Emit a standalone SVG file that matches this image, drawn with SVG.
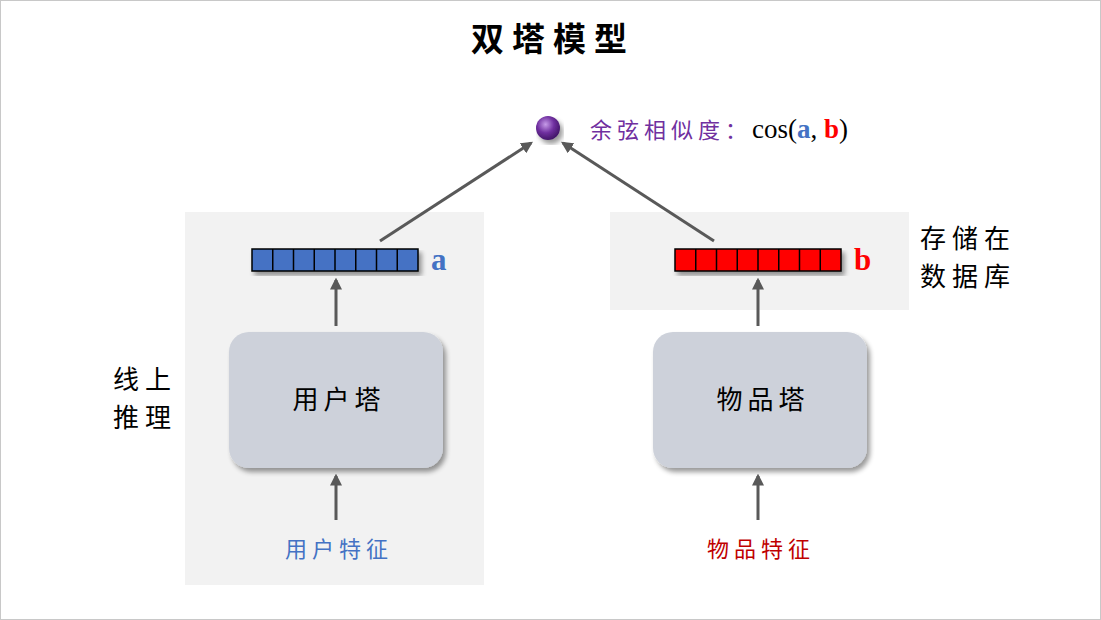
<svg xmlns="http://www.w3.org/2000/svg" width="1101" height="620" viewBox="0 0 1101 620">
<style>
.lbl{font-family:"Noto Sans CJK SC",sans-serif;font-size:26px;fill:#000;letter-spacing:6px;}
.panel{fill:#f2f2f2;}
.tower{fill:#cdd1da;filter:url(#sh);}
.tt{font-family:"Noto Sans CJK SC",sans-serif;font-size:26px;fill:#000;text-anchor:middle;letter-spacing:5px;}
.conn{stroke:#595959;stroke-width:3;fill:none;marker-end:url(#ah);}
.cell{stroke:#000;stroke-width:1.5;}
.feat{font-family:"Noto Sans CJK SC",sans-serif;font-size:22px;text-anchor:middle;letter-spacing:5px;}
</style>
<defs>
<marker id="ah" viewBox="0 0 10 10" refX="8" refY="5" markerWidth="4" markerHeight="4" orient="auto" markerUnits="strokeWidth">
<path d="M0,0 L10,5 L0,10 Z" fill="#595959"/>
</marker>
<filter id="sh" x="-10%" y="-10%" width="125%" height="130%">
<feGaussianBlur in="SourceAlpha" stdDeviation="2.5"/>
<feOffset dx="3" dy="4" result="b"/>
<feComponentTransfer><feFuncA type="linear" slope="0.4"/></feComponentTransfer>
<feMerge><feMergeNode/><feMergeNode in="SourceGraphic"/></feMerge>
</filter>
<radialGradient id="sph" cx="0.4" cy="0.35" r="0.7">
<stop offset="0" stop-color="#c69be8"/>
<stop offset="0.5" stop-color="#7030a0"/>
<stop offset="1" stop-color="#3c1260"/>
</radialGradient>
</defs>
<rect x="0.5" y="0.5" width="1100" height="619" fill="#fff" stroke="#c8c8c8"/>
<text x="553" y="51" text-anchor="middle" font-family="Noto Sans CJK SC, sans-serif" font-weight="bold" font-size="33" letter-spacing="8">双塔模型</text>

<rect class="panel" x="185" y="212" width="299" height="373"/>
<rect class="panel" x="610" y="212" width="299" height="98"/>

<g id="connectors">
<line class="conn" x1="336" y1="326" x2="336" y2="280"/>
<line class="conn" x1="336" y1="520" x2="336" y2="476"/>
<line class="conn" x1="758" y1="326" x2="758" y2="280"/>
<line class="conn" x1="758" y1="520" x2="758" y2="476"/>
<line class="conn" x1="380" y1="241" x2="531" y2="143"/>
<line class="conn" x1="714" y1="241" x2="563" y2="143"/>
</g>

<g id="vec-a" filter="url(#sh)">
<rect x="252" y="249" width="166" height="22" fill="#4472c4" stroke="#000" stroke-width="1.5"/>
<path class="cell" d="M272.75,249V271M293.5,249V271M314.25,249V271M335,249V271M355.75,249V271M376.5,249V271M397.25,249V271"/>
</g>
<text x="431" y="270" font-family="Liberation Serif, serif" font-weight="bold" font-size="31" fill="#4472c4">a</text>

<g id="vec-b" filter="url(#sh)">
<rect x="675" y="249" width="166" height="22" fill="#ff0000" stroke="#000" stroke-width="1.5"/>
<path class="cell" d="M695.75,249V271M716.5,249V271M737.25,249V271M758,249V271M778.75,249V271M799.5,249V271M820.25,249V271"/>
</g>
<text x="854" y="270" font-family="Liberation Serif, serif" font-weight="bold" font-size="31" fill="#ff0000">b</text>

<g id="user-tower">
<rect class="tower" x="229" y="332" width="214" height="136" rx="20"/>
<text class="tt" x="339" y="409">用户塔</text>
</g>
<g id="item-tower">
<rect class="tower" x="653" y="332" width="214" height="136" rx="20"/>
<text class="tt" x="763" y="409">物品塔</text>
</g>

<g id="sphere">
<circle cx="548" cy="128" r="12" fill="url(#sph)" filter="url(#sh)"/>
</g>
<g id="cos-label">
<text x="590" y="138"><tspan font-family="Noto Sans CJK SC, sans-serif" font-size="22" fill="#7030a0" letter-spacing="5">余弦相似度：</tspan><tspan font-family="Liberation Serif, serif" font-size="27" fill="#000">cos(</tspan><tspan font-family="Liberation Serif, serif" font-size="27" font-weight="bold" fill="#4472c4">a</tspan><tspan font-family="Liberation Serif, serif" font-size="27" fill="#000">, </tspan><tspan font-family="Liberation Serif, serif" font-size="27" font-weight="bold" fill="#ff0000">b</tspan><tspan font-family="Liberation Serif, serif" font-size="27" fill="#000">)</tspan></text>
</g>

<g id="online">
<text class="lbl" x="113" y="389">线上</text>
<text class="lbl" x="113" y="427">推理</text>
</g>
<g id="storage">
<text class="lbl" x="920" y="248">存储在</text>
<text class="lbl" x="920" y="286">数据库</text>
</g>

<g id="user-feat"><text class="feat" x="339" y="557" fill="#4472c4">用户特征</text></g>
<g id="item-feat"><text class="feat" x="761" y="557" fill="#c00000">物品特征</text></g>
</svg>
